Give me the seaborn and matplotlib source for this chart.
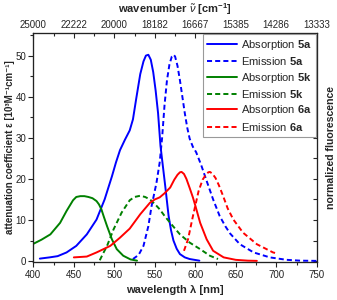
import matplotlib
matplotlib.use("Agg")
import matplotlib.pyplot as plt
import seaborn as sns
import numpy as np
from matplotlib.ticker import MultipleLocator, FixedLocator

# ---------------- data ----------------
abs5a_wl = [408, 420, 430, 441, 453, 466, 478, 488, 497, 502, 507, 513, 519, 523, 527, 532, 536,
            539, 542, 545, 548, 551, 554, 557, 560, 563, 567, 570, 573, 577, 581, 587, 593, 605]
abs5a_v = [0.6, 0.9, 1.2, 2.1, 3.7, 6.5, 10.1, 15.0, 20.6, 24.0, 27.0, 29.5, 31.8, 34.5, 39.5, 45.5, 48.6,
           50.0, 50.2, 49.0, 46.0, 41.5, 36.0, 28.0, 23.0, 18.0, 11.0, 7.5, 5.0, 3.0, 1.7, 0.9, 0.5, 0.1]

em5a_wl = [523, 530, 536, 542, 546, 552, 556, 559, 562, 565, 568, 571, 573, 575, 578, 581, 584, 587,
           590, 593, 597, 601, 607, 614, 622, 630, 637, 643, 655, 672, 692, 713, 730, 750]
em5a_v = [0.5, 1.5, 3.7, 8.5, 13.4, 19.0, 24.0, 30.0, 38.0, 44.0, 47.8, 49.8, 50.2, 49.8, 47.5, 44.0, 40.0, 36.0,
          32.5, 29.8, 27.8, 26.5, 23.5, 19.5, 15.0, 11.0, 8.5, 6.7, 4.1, 2.1, 0.9, 0.3, 0.1, 0.05]

abs5k_wl = [400, 410, 421, 433, 441, 449, 453, 458, 463, 468, 473, 478, 481, 484, 487, 491, 497, 503,
            511, 520, 528]
abs5k_v = [4.2, 5.2, 6.5, 9.3, 12.2, 14.8, 15.6, 15.8, 15.8, 15.6, 15.3, 14.6, 13.8, 12.6, 10.8, 8.5,
           5.3, 2.9, 1.3, 0.4, 0.1]

em5k_wl = [482, 486, 491, 499, 509, 519, 525, 532, 538, 544, 550, 556, 562, 569, 581, 593, 606, 618, 628]
em5k_v = [0.2, 1.8, 3.7, 7.7, 11.8, 14.8, 15.6, 15.9, 15.6, 15.0, 13.9, 12.6, 11.0, 9.3, 6.5, 4.5, 2.9,
          1.3, 0.5]

abs6a_wl = [450, 466, 478, 495, 507, 519, 532, 544, 550, 556, 562, 569, 574, 578, 581, 583, 586, 589,
            593, 597, 600, 606, 614, 622, 635, 650, 665, 676]
abs6a_v = [0.9, 1.1, 2.1, 3.7, 5.7, 7.9, 11.4, 14.2, 15.0, 15.5, 16.5, 17.9, 19.8, 21.0, 21.6, 21.7, 21.2,
           20.0, 17.8, 15.5, 13.5, 9.3, 5.3, 2.5, 0.9, 0.3, 0.1, 0.05]

em6a_wl = [586, 591, 597, 604, 609, 613, 616, 618, 621, 625, 629, 634, 640, 647, 659, 676, 696, 700]
em6a_v = [2.5, 5.3, 10.9, 17.0, 19.8, 21.0, 21.6, 21.7, 21.3, 20.2, 18.5, 16.0, 12.8, 10.1, 6.9, 4.1,
          2.1, 1.9]

top_tick_wl = [400, 450, 500, 550, 600, 650, 700, 750]
top_tick_labels = [str(int(round(1e7 / w))) for w in top_tick_wl]

series = [
    (abs5a_wl, abs5a_v, "#0000ff", "-", r"Absorption $\mathbf{5a}$"),
    (em5a_wl, em5a_v, "#0000ff", "--", r"Emission $\mathbf{5a}$"),
    (abs5k_wl, abs5k_v, "#008000", "-", r"Absorption $\mathbf{5k}$"),
    (em5k_wl, em5k_v, "#008000", "--", r"Emission $\mathbf{5k}$"),
    (abs6a_wl, abs6a_v, "#ff0000", "-", r"Absorption $\mathbf{6a}$"),
    (em6a_wl, em6a_v, "#ff0000", "--", r"Emission $\mathbf{6a}$"),
]

# ---------------- style ----------------
sns.set_theme(style="ticks")
plt.rcParams["font.family"] = ["Liberation Sans", "DejaVu Sans"]
plt.rcParams["mathtext.fontset"] = "custom"
plt.rcParams["mathtext.rm"] = "Liberation Sans"
plt.rcParams["mathtext.it"] = "Liberation Sans:italic"
plt.rcParams["mathtext.bf"] = "Liberation Sans:bold"

fig = plt.figure(figsize=(3.37, 3.0), dpi=100)
ax = fig.add_axes([0.099, 0.127, 0.841, 0.763])

for wl, v, c, ls, lab in series:
    sns.lineplot(x=wl, y=v, ax=ax, color=c, linewidth=1.4, label=lab)
    l = ax.get_lines()[-1]
    l.set_solid_joinstyle("round")
    l.set_dash_joinstyle("round")
    if ls == "--":
        l.set_dashes((2.6, 1.6))

ax.set_xlim(400, 750)
ax.set_ylim(-0.2, 55.5)
ax.xaxis.set_major_locator(MultipleLocator(50))
ax.xaxis.set_minor_locator(MultipleLocator(25))
ax.yaxis.set_major_locator(MultipleLocator(10))
ax.yaxis.set_minor_locator(MultipleLocator(5))
ax.tick_params(axis="both", which="major", direction="out", length=3.5, width=0.8,
               labelsize=7, pad=2, colors="#222222")
ax.tick_params(axis="y", which="major", pad=1.5)
ax.tick_params(axis="both", which="minor", direction="out", length=2, width=0.8)
for s in ax.spines.values():
    s.set_visible(True)
    s.set_linewidth(0.8)
    s.set_color("#222222")

ax.set_xlabel("wavelength λ [nm]", fontsize=8, fontweight="bold", labelpad=4)
ax.set_ylabel("attenuation coefficient ε [10³M⁻¹cm⁻¹]",
              fontsize=7.0, fontweight="bold", va="center")
ax.yaxis.set_label_coords(-0.081, 0.5)

# top axis (wavenumber)
top = ax.twiny()
top.set_xlim(ax.get_xlim())
top.xaxis.set_major_locator(FixedLocator(top_tick_wl))
top.xaxis.set_minor_locator(MultipleLocator(25))
top.set_xticklabels(top_tick_labels)
top.tick_params(axis="x", which="major", direction="in", length=3.5, width=0.8, labelsize=7, pad=2)
top.tick_params(axis="x", which="minor", direction="in", length=2, width=0.8)
top.set_xlabel(r"wavenumber $\tilde{\nu}$ [cm$^{\mathbf{-1}}$]", fontsize=8, fontweight="bold", labelpad=5)

# right axis (normalized fluorescence)
right = ax.twinx()
right.set_ylim(ax.get_ylim())
right.yaxis.set_major_locator(MultipleLocator(5))
right.set_yticklabels([])
right.tick_params(axis="y", which="major", direction="in", length=3, width=0.8)
right.set_ylabel("normalized fluorescence", fontsize=7.6, fontweight="bold", labelpad=3)
for s in list(top.spines.values()) + list(right.spines.values()):
    s.set_linewidth(0.8)
    s.set_color("#222222")

leg = ax.legend(loc="upper right", bbox_to_anchor=(1.0, 1.0), borderaxespad=0.1, fontsize=8,
                frameon=True, fancybox=False, edgecolor="#999999", framealpha=1,
                handlelength=2.7, handletextpad=0.35, labelspacing=0.3, borderpad=0.35)
leg.get_frame().set_linewidth(0.8)
for i, h in enumerate(leg.get_lines()):
    h.set_linewidth(1.4)
    if i % 2 == 1:
        h.set_dashes((2.6, 1.6))
leg.set_zorder(10)
ax.set_zorder(3)
ax.patch.set_visible(False)

fig.savefig("out.png", dpi=100)
